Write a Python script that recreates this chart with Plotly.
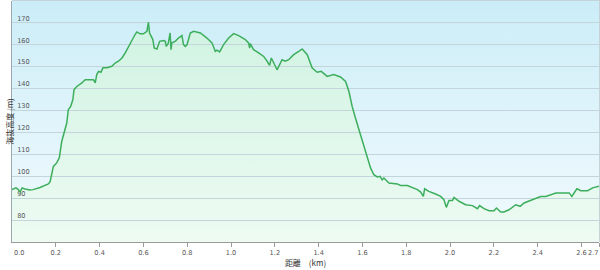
import plotly.graph_objects as go

# ---- data ----
distance_km = [0.000, 0.018, 0.029, 0.037, 0.046, 0.059, 0.082, 0.096, 0.128, 0.159,
               0.166, 0.174, 0.189, 0.204, 0.216, 0.227, 0.235, 0.250, 0.257, 0.268,
               0.278, 0.283, 0.296, 0.319, 0.334, 0.357, 0.372, 0.380, 0.387, 0.395,
               0.406, 0.415, 0.433, 0.456, 0.471, 0.486, 0.502, 0.517, 0.532, 0.547,
               0.562, 0.570, 0.585, 0.600, 0.616, 0.623, 0.628, 0.643, 0.649, 0.662,
               0.674, 0.692, 0.700, 0.704, 0.713, 0.722, 0.726, 0.730, 0.745, 0.760,
               0.776, 0.783, 0.791, 0.799, 0.814, 0.829, 0.860, 0.890, 0.913, 0.928,
               0.936, 0.948, 0.966, 0.989, 1.012, 1.035, 1.065, 1.080, 1.085, 1.088,
               1.103, 1.126, 1.149, 1.165, 1.176, 1.184, 1.195, 1.210, 1.233, 1.248,
               1.263, 1.286, 1.309, 1.325, 1.348, 1.370, 1.393, 1.412, 1.439, 1.469,
               1.500, 1.523, 1.538, 1.553, 1.568, 1.591, 1.606, 1.622, 1.637, 1.652,
               1.668, 1.680, 1.690, 1.698, 1.721, 1.759, 1.774, 1.805, 1.828, 1.851,
               1.866, 1.878, 1.884, 1.903, 1.934, 1.957, 1.972, 1.983, 1.995, 2.011,
               2.018, 2.041, 2.071, 2.102, 2.125, 2.135, 2.155, 2.178, 2.201, 2.212,
               2.231, 2.246, 2.269, 2.300, 2.320, 2.338, 2.384, 2.414, 2.437, 2.483,
               2.544, 2.556, 2.579, 2.597, 2.628, 2.651, 2.680]
elevation_m = [93.9, 94.7, 93.9, 92.8, 94.7, 94.2, 93.7, 93.9, 94.9, 96.2,
               96.5, 97.5, 104.5, 106.1, 108.4, 115.9, 119.0, 124.3, 130.4, 131.9,
               135.0, 139.5, 141.0, 142.6, 144.1, 144.1, 144.1, 142.6, 146.4, 147.9,
               147.5, 149.5, 149.5, 150.2, 151.7, 152.5, 154.0, 156.3, 159.3, 161.6,
               164.7, 165.9, 165.0, 165.0, 166.2, 170.3, 165.4, 162.4, 158.6, 158.1,
               161.6, 162.0, 161.6, 159.3, 160.5, 165.4, 157.8, 160.9, 161.6, 163.1,
               164.2, 160.1, 159.3, 160.0, 165.4, 166.2, 165.4, 163.1, 160.9, 157.0,
               157.6, 156.8, 160.1, 163.1, 165.1, 164.2, 162.4, 160.9, 158.5, 160.5,
               157.8, 156.3, 154.7, 152.5, 150.6, 154.0, 151.7, 148.6, 153.2, 152.5,
               153.2, 155.5, 157.0, 158.1, 155.5, 149.5, 147.5, 147.9, 145.6, 146.4,
               145.3, 143.3, 138.8, 131.9, 126.6, 119.0, 112.9, 107.6, 103.8, 100.7,
               99.7, 100.0, 98.4, 99.2, 96.9, 96.5, 95.8, 95.8, 94.7, 93.9,
               92.8, 90.8, 94.3, 93.1, 91.9, 90.8, 89.3, 85.8, 88.9, 88.9,
               90.4, 88.6, 87.0, 86.6, 85.2, 86.6, 85.2, 84.3, 84.3, 85.5,
               83.7, 83.7, 84.7, 87.0, 86.3, 87.8, 89.6, 90.8, 90.8, 92.4,
               92.4, 90.8, 94.3, 93.4, 93.4, 94.7, 95.4]

x_tick_values = [0.0, 0.2, 0.4, 0.6, 0.8, 1.0, 1.2, 1.4, 1.6, 1.8, 2.0, 2.2, 2.4, 2.6, 2.68]
x_tick_labels = ["0.0", "0.2", "0.4", "0.6", "0.8", "1.0", "1.2", "1.4", "1.6", "1.8",
                 "2.0", "2.2", "2.4", "2.6", "2.7"]
y_tick_values = [80, 90, 100, 110, 120, 130, 140, 150, 160, 170]
y_tick_labels = ["80", "90", "100", "110", "120", "130", "140", "150", "160", "170"]

x_title = "距離　(km)"
y_title = "海抜高度 (m)"

Y_MIN, Y_MAX = 70, 180
X_MIN, X_MAX = distance_km[0], distance_km[-1]

LABEL_FONT = dict(family="DejaVu Sans", size=6.6, color="#555555")
TITLE_FONT = dict(family="Noto Sans CJK JP, DejaVu Sans", size=8, color="#333333")

fig = go.Figure()

# background gradient panel (subplot 1)
fig.add_trace(go.Scatter(
    x=[X_MIN, X_MAX], y=[Y_MAX, Y_MAX], mode="lines", line=dict(width=0),
    fill="tozeroy",
    fillgradient=dict(type="vertical", start=Y_MIN, stop=Y_MAX,
                      colorscale=[[0, "#f0fafd"], [0.5, "#e0f4fb"], [1, "#cbedf8"]]),
    hoverinfo="skip", showlegend=False, xaxis="x", yaxis="y"))

# green area under the profile (subplot 1)
fig.add_trace(go.Scatter(
    x=distance_km, y=elevation_m, mode="lines", line=dict(width=0),
    fill="tozeroy",
    fillgradient=dict(type="vertical", start=Y_MIN, stop=170,
                      colorscale=[[0, "#eefbf3"], [1, "#d0f3e2"]]),
    hoverinfo="skip", showlegend=False, xaxis="x", yaxis="y"))

# profile line (subplot 2, drawn above gridlines)
fig.add_trace(go.Scatter(
    x=distance_km, y=elevation_m, mode="lines",
    line=dict(color="#3dae5c", width=1.5),
    showlegend=False, xaxis="x2", yaxis="y2"))

fig.update_layout(
    width=600, height=270,
    margin=dict(l=12, r=1, t=1, b=28),
    paper_bgcolor="#ffffff",
    plot_bgcolor="rgba(0,0,0,0)",
    xaxis=dict(domain=[0, 1], range=[X_MIN, X_MAX], anchor="y",
               tickvals=x_tick_values,
               ticktext=[""] + x_tick_labels[1:-1] + [""],
               ticks="outside", ticklen=4, tickcolor="#9a9a9a",
               showline=True, linecolor="#9a9a9a", linewidth=1,
               showgrid=False, zeroline=False, tickfont=LABEL_FONT,
               title=dict(text=x_title, font=TITLE_FONT, standoff=2)),
    yaxis=dict(domain=[0, 1], range=[Y_MIN, Y_MAX], anchor="x",
               tickvals=y_tick_values, ticktext=y_tick_labels,
               ticklabelposition="inside top", ticklabelstandoff=3, ticks="",
               showline=True, linecolor="#9aa9ae", linewidth=1,
               showgrid=False, zeroline=False, tickfont=LABEL_FONT,
               title=dict(text=y_title, font=TITLE_FONT, standoff=2)),
    xaxis2=dict(domain=[0, 1], range=[X_MIN, X_MAX], anchor="y2", side="top",
                showticklabels=False, ticks="", showgrid=False, zeroline=False,
                showline=True, linecolor="#c4d3d8", linewidth=1),
    yaxis2=dict(domain=[0, 1], range=[Y_MIN, Y_MAX], anchor="x2", side="right",
                tickvals=y_tick_values, showticklabels=False, ticks="",
                showgrid=True, gridcolor="#c3d5da", gridwidth=1, zeroline=False,
                showline=True, linecolor="#c4d3d8", linewidth=1),
    annotations=[
        dict(x=X_MIN, y=0, xref="x", yref="paper", yshift=-5, text=x_tick_labels[0],
             showarrow=False, xanchor="left", yanchor="top", font=LABEL_FONT),
        dict(x=X_MAX, y=0, xref="x", yref="paper", yshift=-5, xshift=2,
             text=x_tick_labels[-1],
             showarrow=False, xanchor="right", yanchor="top", font=LABEL_FONT),
    ],
)

fig.write_html("out.html")
